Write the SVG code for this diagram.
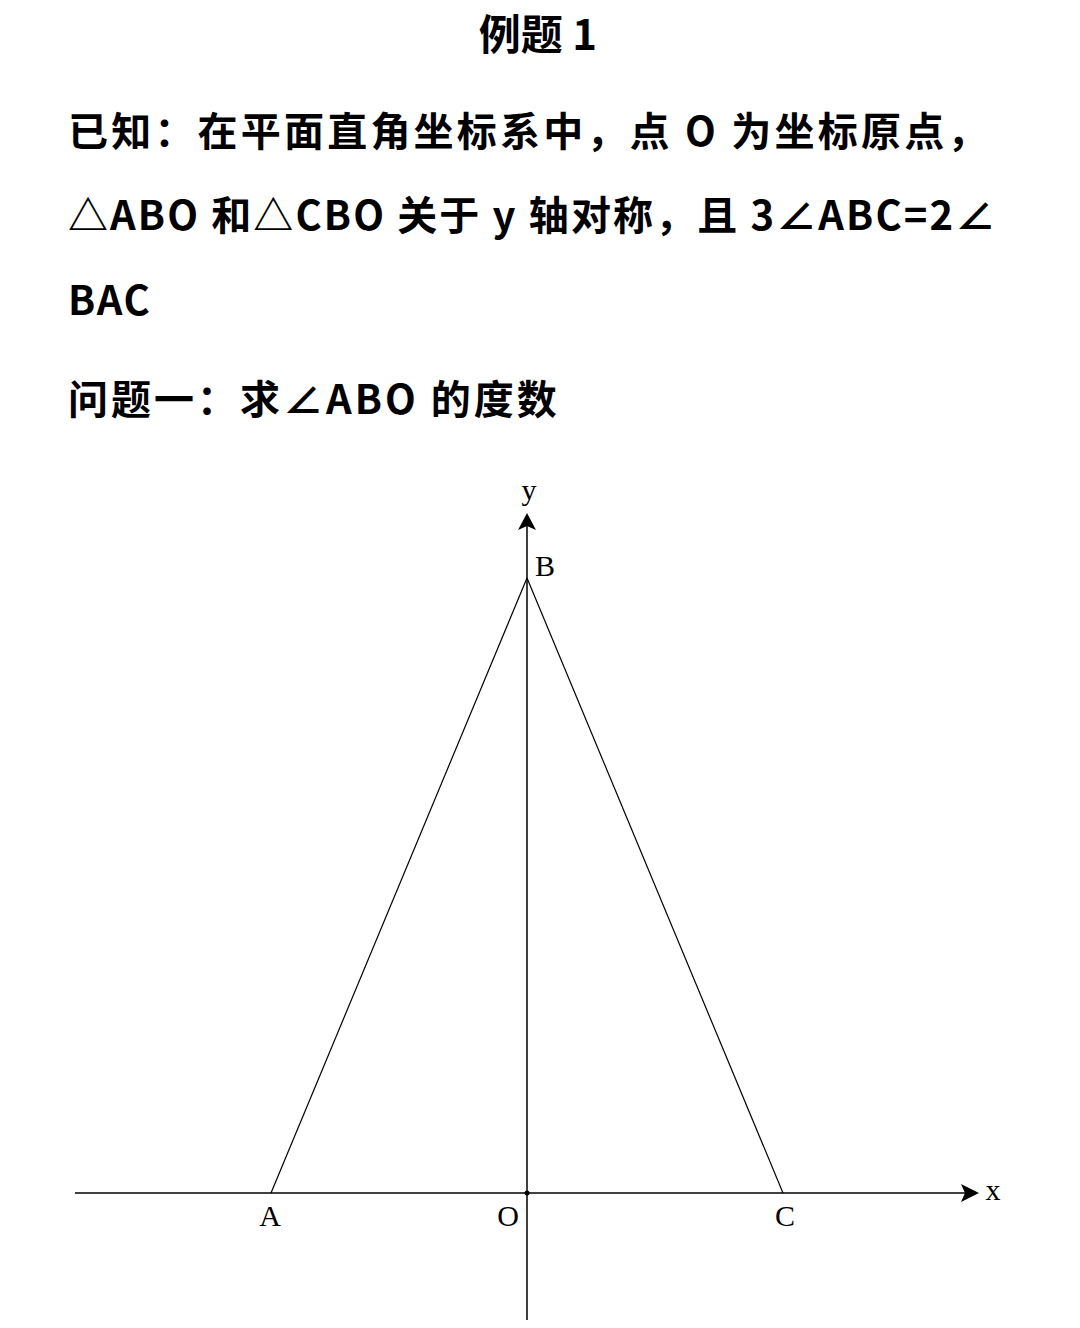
<svg xmlns="http://www.w3.org/2000/svg" width="1080" height="1328" viewBox="0 0 1080 1328">
<defs>
<style>
.t{font-family:"Noto Sans CJK SC","Noto Sans",sans-serif;font-weight:bold;font-size:40px;fill:#000;letter-spacing:3px}
.lbl{font-family:"Liberation Serif","DejaVu Serif",serif;font-size:30px;fill:#000}
.ax{stroke:#000;stroke-width:1.5;fill:none}
.tri{stroke:#000;stroke-width:1.2;fill:none}
</style>
</defs>
<rect width="1080" height="1328" fill="#fff"/>
<g id="text">
<text class="t" x="538" y="50" text-anchor="middle" style="letter-spacing:0;font-size:42px">例题 1</text>
<text class="t" x="68" y="146" style="letter-spacing:3.2px">已知：在平面直角坐标系中，点 O 为坐标原点，</text>
<text class="t" x="68" y="230" style="letter-spacing:2.1px">△ABO 和△CBO 关于 y 轴对称，且 3∠ABC=2∠</text>
<text class="t" x="68" y="315" style="letter-spacing:1.5px">BAC</text>
<text class="t" x="68" y="414">问题一：求∠ABO 的度数</text>
</g>
<g id="connectors">
<line class="ax" x1="75" y1="1193" x2="966" y2="1193"/>
<polygon points="979,1193 961,1184 965,1193 961,1202" fill="#000"/>
<line class="ax" x1="527" y1="1320" x2="527" y2="526"/>
<polygon points="527,513 518,530 527,526 536,530" fill="#000"/>
<line class="tri" x1="271" y1="1193" x2="527" y2="578"/>
<line class="tri" x1="783" y1="1193" x2="527" y2="578"/>
</g>
<g id="node-O"><circle cx="527" cy="1193" r="2.5" fill="#000"/><text class="lbl" x="508" y="1226" text-anchor="middle">O</text></g>
<g id="node-A"><text class="lbl" x="270" y="1226" text-anchor="middle">A</text></g>
<g id="node-C"><text class="lbl" x="785" y="1226" text-anchor="middle">C</text></g>
<g id="node-B"><text class="lbl" x="545" y="576" text-anchor="middle">B</text></g>
<g id="label-y"><text class="lbl" x="529" y="500" text-anchor="middle">y</text></g>
<g id="label-x"><text class="lbl" x="993" y="1200" text-anchor="middle">x</text></g>
</svg>
